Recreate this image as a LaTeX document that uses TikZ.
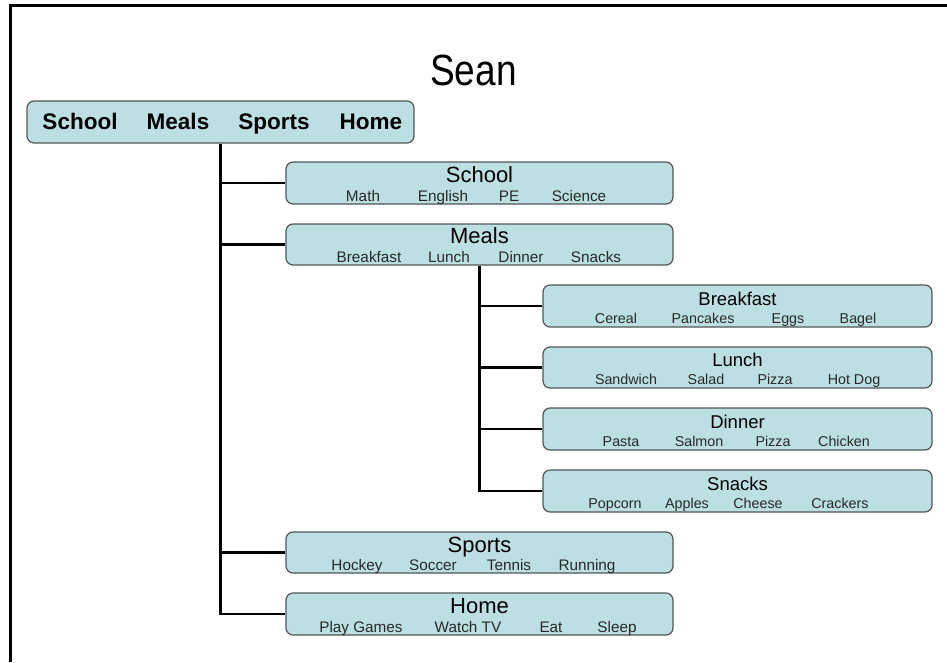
\documentclass[tikz,border=0pt]{standalone}
\usepackage{fontspec}
\setmainfont{Liberation Sans}
\definecolor{boxfill}{RGB}{187,223,227}
\definecolor{boxline}{RGB}{85,85,85}
\definecolor{subtext}{RGB}{40,40,40}
\begin{document}
\begin{tikzpicture}[x=1pt,y=-1pt,
  box/.style={draw=boxline, fill=boxfill, line width=1.2pt, rounded corners=7pt,
              minimum width=387pt, minimum height=42pt, inner sep=0pt},
  conn/.style={line width=2.6pt, draw=black},
  toptxt/.style={anchor=base, inner sep=0pt, font=\fontsize{22.5}{26}\selectfont\bfseries},
  titA/.style={anchor=base, inner sep=0pt, font=\fontsize{22}{26}\selectfont},
  subA/.style={anchor=base, inner sep=0pt, text=subtext, font=\fontsize{15.3}{18}\selectfont},
  titB/.style={anchor=base, inner sep=0pt, font=\fontsize{18.5}{22}\selectfont},
  subB/.style={anchor=base, inner sep=0pt, text=subtext, font=\fontsize{14.3}{17}\selectfont}]
\useasboundingbox (0,0) rectangle (947,662);
% frame
\draw[line width=3pt, line cap=butt, line join=miter] (10.5,662) -- (10.5,5.5) -- (947,5.5);
% title
\node[anchor=base, inner sep=0pt, yscale=1.18, font=\fontsize{37}{44}\selectfont] (title) at (473.5,85) {Sean};
% top box
\node[box] (top) at (220.5,122) {};
\node[toptxt] (t1) at (80,129) {School};
\node[toptxt] (t2) at (178,129) {Meals};
\node[toptxt] (t3) at (274,129) {Sports};
\node[toptxt] (t4) at (371,129) {Home};
% level 2 boxes
\node[box] (school) at (479.5,183) {};
\node[titA] (schoolT) at (479.5,182) {School};
\node[subA] (s1) at (363,201.5) {Math};
\node[subA] (s2) at (443,201.5) {English};
\node[subA] (s3) at (509,201.5) {PE};
\node[subA] (s4) at (579,201.5) {Science};

\node[box, minimum height=41pt] (meals) at (479.5,244.5) {};
\node[titA] (mealsT) at (479.5,243) {Meals};
\node[subA] (m1) at (369,262) {Breakfast};
\node[subA] (m2) at (449,262) {Lunch};
\node[subA] (m3) at (521,262) {Dinner};
\node[subA] (m4) at (596,262) {Snacks};

\node[box, minimum height=41pt] (sports) at (479.5,552.5) {};
\node[titA] (sportsT) at (479.5,552) {Sports};
\node[subA] (p1) at (357,570.5) {Hockey};
\node[subA] (p2) at (433,570.5) {Soccer};
\node[subA] (p3) at (509,570.5) {Tennis};
\node[subA] (p4) at (587,570.5) {Running};

\node[box] (home) at (479.5,614) {};
\node[titA] (homeT) at (479.5,613) {Home};
\node[subA] (h1) at (361,632) {Play Games};
\node[subA] (h2) at (468,632) {Watch TV};
\node[subA] (h3) at (551,632) {Eat};
\node[subA] (h4) at (617,632) {Sleep};
% level 3 boxes
\node[box, minimum width=389pt] (breakfast) at (737.5,306) {};
\node[titB] (breakfastT) at (737.5,305) {Breakfast};
\node[subB] (b1) at (616,323) {Cereal};
\node[subB] (b2) at (703,323) {Pancakes};
\node[subB] (b3) at (788,323) {Eggs};
\node[subB] (b4) at (858,323) {Bagel};

\node[box, minimum width=389pt, minimum height=41pt] (lunch) at (737.5,367.5) {};
\node[titB] (lunchT) at (737.5,366) {Lunch};
\node[subB] (l1) at (626,384.5) {Sandwich};
\node[subB] (l2) at (706,384.5) {Salad};
\node[subB] (l3) at (775,384.5) {Pizza};
\node[subB] (l4) at (854,384.5) {Hot Dog};

\node[box, minimum width=389pt] (dinner) at (737.5,429) {};
\node[titB] (dinnerT) at (737.5,428) {Dinner};
\node[subB] (d1) at (621,446.5) {Pasta};
\node[subB] (d2) at (699,446.5) {Salmon};
\node[subB] (d3) at (773,446.5) {Pizza};
\node[subB] (d4) at (844,446.5) {Chicken};

\node[box, minimum width=389pt] (snacks) at (737.5,491) {};
\node[titB] (snacksT) at (737.5,490) {Snacks};
\node[subB] (n1) at (615,508) {Popcorn};
\node[subB] (n2) at (687,508) {Apples};
\node[subB] (n3) at (758,508) {Cheese};
\node[subB] (n4) at (840,508) {Crackers};
% connectors
\draw[conn] (top.south) -- (top.south |- home.west) -- (home.west);
\draw[conn] (top.south |- school.west) -- (school.west);
\draw[conn] (top.south |- meals.west) -- (meals.west);
\draw[conn] (top.south |- sports.west) -- (sports.west);
\draw[conn] (meals.south) -- (meals.south |- snacks.west) -- (snacks.west);
\draw[conn] (meals.south |- breakfast.west) -- (breakfast.west);
\draw[conn] (meals.south |- lunch.west) -- (lunch.west);
\draw[conn] (meals.south |- dinner.west) -- (dinner.west);
\end{tikzpicture}
\end{document}
